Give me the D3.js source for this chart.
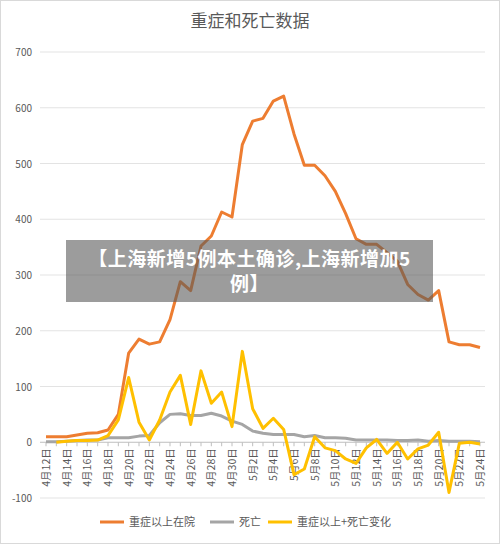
<!DOCTYPE html>
<html><head><meta charset="utf-8">
<script src="https://cdn.jsdelivr.net/npm/d3@7"></script>
<style>
body{margin:0;background:#fff;font-family:"Noto Sans CJK SC","Noto Sans",sans-serif;}
#wrap{position:relative;width:500px;height:544px;}
#banner{position:absolute;left:66px;top:240px;width:367px;height:62px;background:rgba(90,90,90,0.6);color:#fff;font-weight:bold;font-size:19px;line-height:25px;text-align:center;padding-top:5px;box-sizing:border-box;letter-spacing:0.5px;}
</style></head>
<body><div id="wrap"><svg id="chart" width="500" height="544"></svg>
<div id="banner">【上海新增5例本土确诊,上海新增加5<br>例】</div></div>
<script>
// ---- data ----
const dates = [];
for (let d = 12; d <= 30; d++) dates.push(`4月${d}日`);
for (let d = 1; d <= 24; d++) dates.push(`5月${d}日`);

const severe = [10,10,10,13,16,17,22,50,160,185,176,180,220,288,272,352,370,413,404,534,576,581,612,621,553,497,497,478,450,410,365,355,355,340,325,283,265,255,272,180,175,175,170];
const deaths = [1,1,2,3,4,4,8,8,8,11,12,35,50,51,48,48,52,47,38,32,20,16,14,14,14,10,12,8,8,7,4,4,4,4,3,3,4,2,3,2,2,2,1];
const change = [null,0,2,3,3,4,12,40,116,36,4,40,90,120,32,128,70,90,28,163,60,25,43,23,-58,-48,10,-10,-15,-30,-38,-10,5,-20,0,-30,-12,-5,18,-90,-2,0,-3];
const yTicks = [-100,0,100,200,300,400,500,600,700];

const series = [
  {name:"重症以上在院", values:severe, color:"#ed7d31"},
  {name:"死亡", values:deaths, color:"#a5a5a5"},
  {name:"重症以上+死亡变化", values:change, color:"#ffc000"}
];

// ---- layout ----
const svg = d3.select("#chart");
const plotLeft = 40, plotRight = 485, plotTop = 52, plotBottom = 498;
const x = d3.scalePoint().domain(dates).range([46, 480]);
const y = d3.scaleLinear().domain([-100, 700]).range([plotBottom, plotTop]);

svg.append("rect").attr("x",0.5).attr("y",0.5).attr("width",499).attr("height",543)
  .attr("fill","#fff").attr("stroke","#d9d9d9");

svg.append("text").attr("x",250).attr("y",27).attr("text-anchor","middle")
  .attr("font-size",17).attr("fill","#595959").text("重症和死亡数据");

// grid + y labels
svg.selectAll(".grid").data(yTicks).join("line")
  .attr("x1",plotLeft).attr("x2",plotRight).attr("y1",d=>y(d)).attr("y2",d=>y(d))
  .attr("stroke",d=>d===0?"#bfbfbf":"#e3e3e3").attr("stroke-width",1);
svg.selectAll(".ylab").data(yTicks).join("text")
  .attr("x",32).attr("y",d=>y(d)+4).attr("text-anchor","end")
  .attr("font-size",10).attr("fill","#595959").text(d=>d);

// x labels
const xLabels = dates.filter((d,i)=>i%2===0);
svg.selectAll(".xlab").data(xLabels).join("text")
  .attr("transform",d=>`translate(${x(d)+4},${y(0)+6}) rotate(-90)`)
  .attr("text-anchor","end").attr("font-size",10.5).attr("fill","#595959").text(d=>d);
svg.selectAll(".xtick").data(dates).join("line")
  .attr("x1",d=>x(d)).attr("x2",d=>x(d)).attr("y1",y(0)).attr("y2",y(0)+4)
  .attr("stroke","#bfbfbf");

// lines
const line = d3.line().defined(v=>v!==null).x((v,i)=>x(dates[i])).y(v=>y(v));
series.forEach(s=>{
  svg.append("path").attr("d",line(s.values)).attr("fill","none")
    .attr("stroke",s.color).attr("stroke-width",3).attr("stroke-linejoin","round");
});

// legend
const legX = [100, 210, 268];
series.forEach((s,i)=>{
  const g = svg.append("g").attr("transform",`translate(${legX[i]},522)`);
  g.append("line").attr("x1",0).attr("x2",24).attr("stroke",s.color).attr("stroke-width",3);
  g.append("text").attr("x",29).attr("y",4).attr("font-size",11).attr("fill","#595959").text(s.name);
});
</script></body></html>
